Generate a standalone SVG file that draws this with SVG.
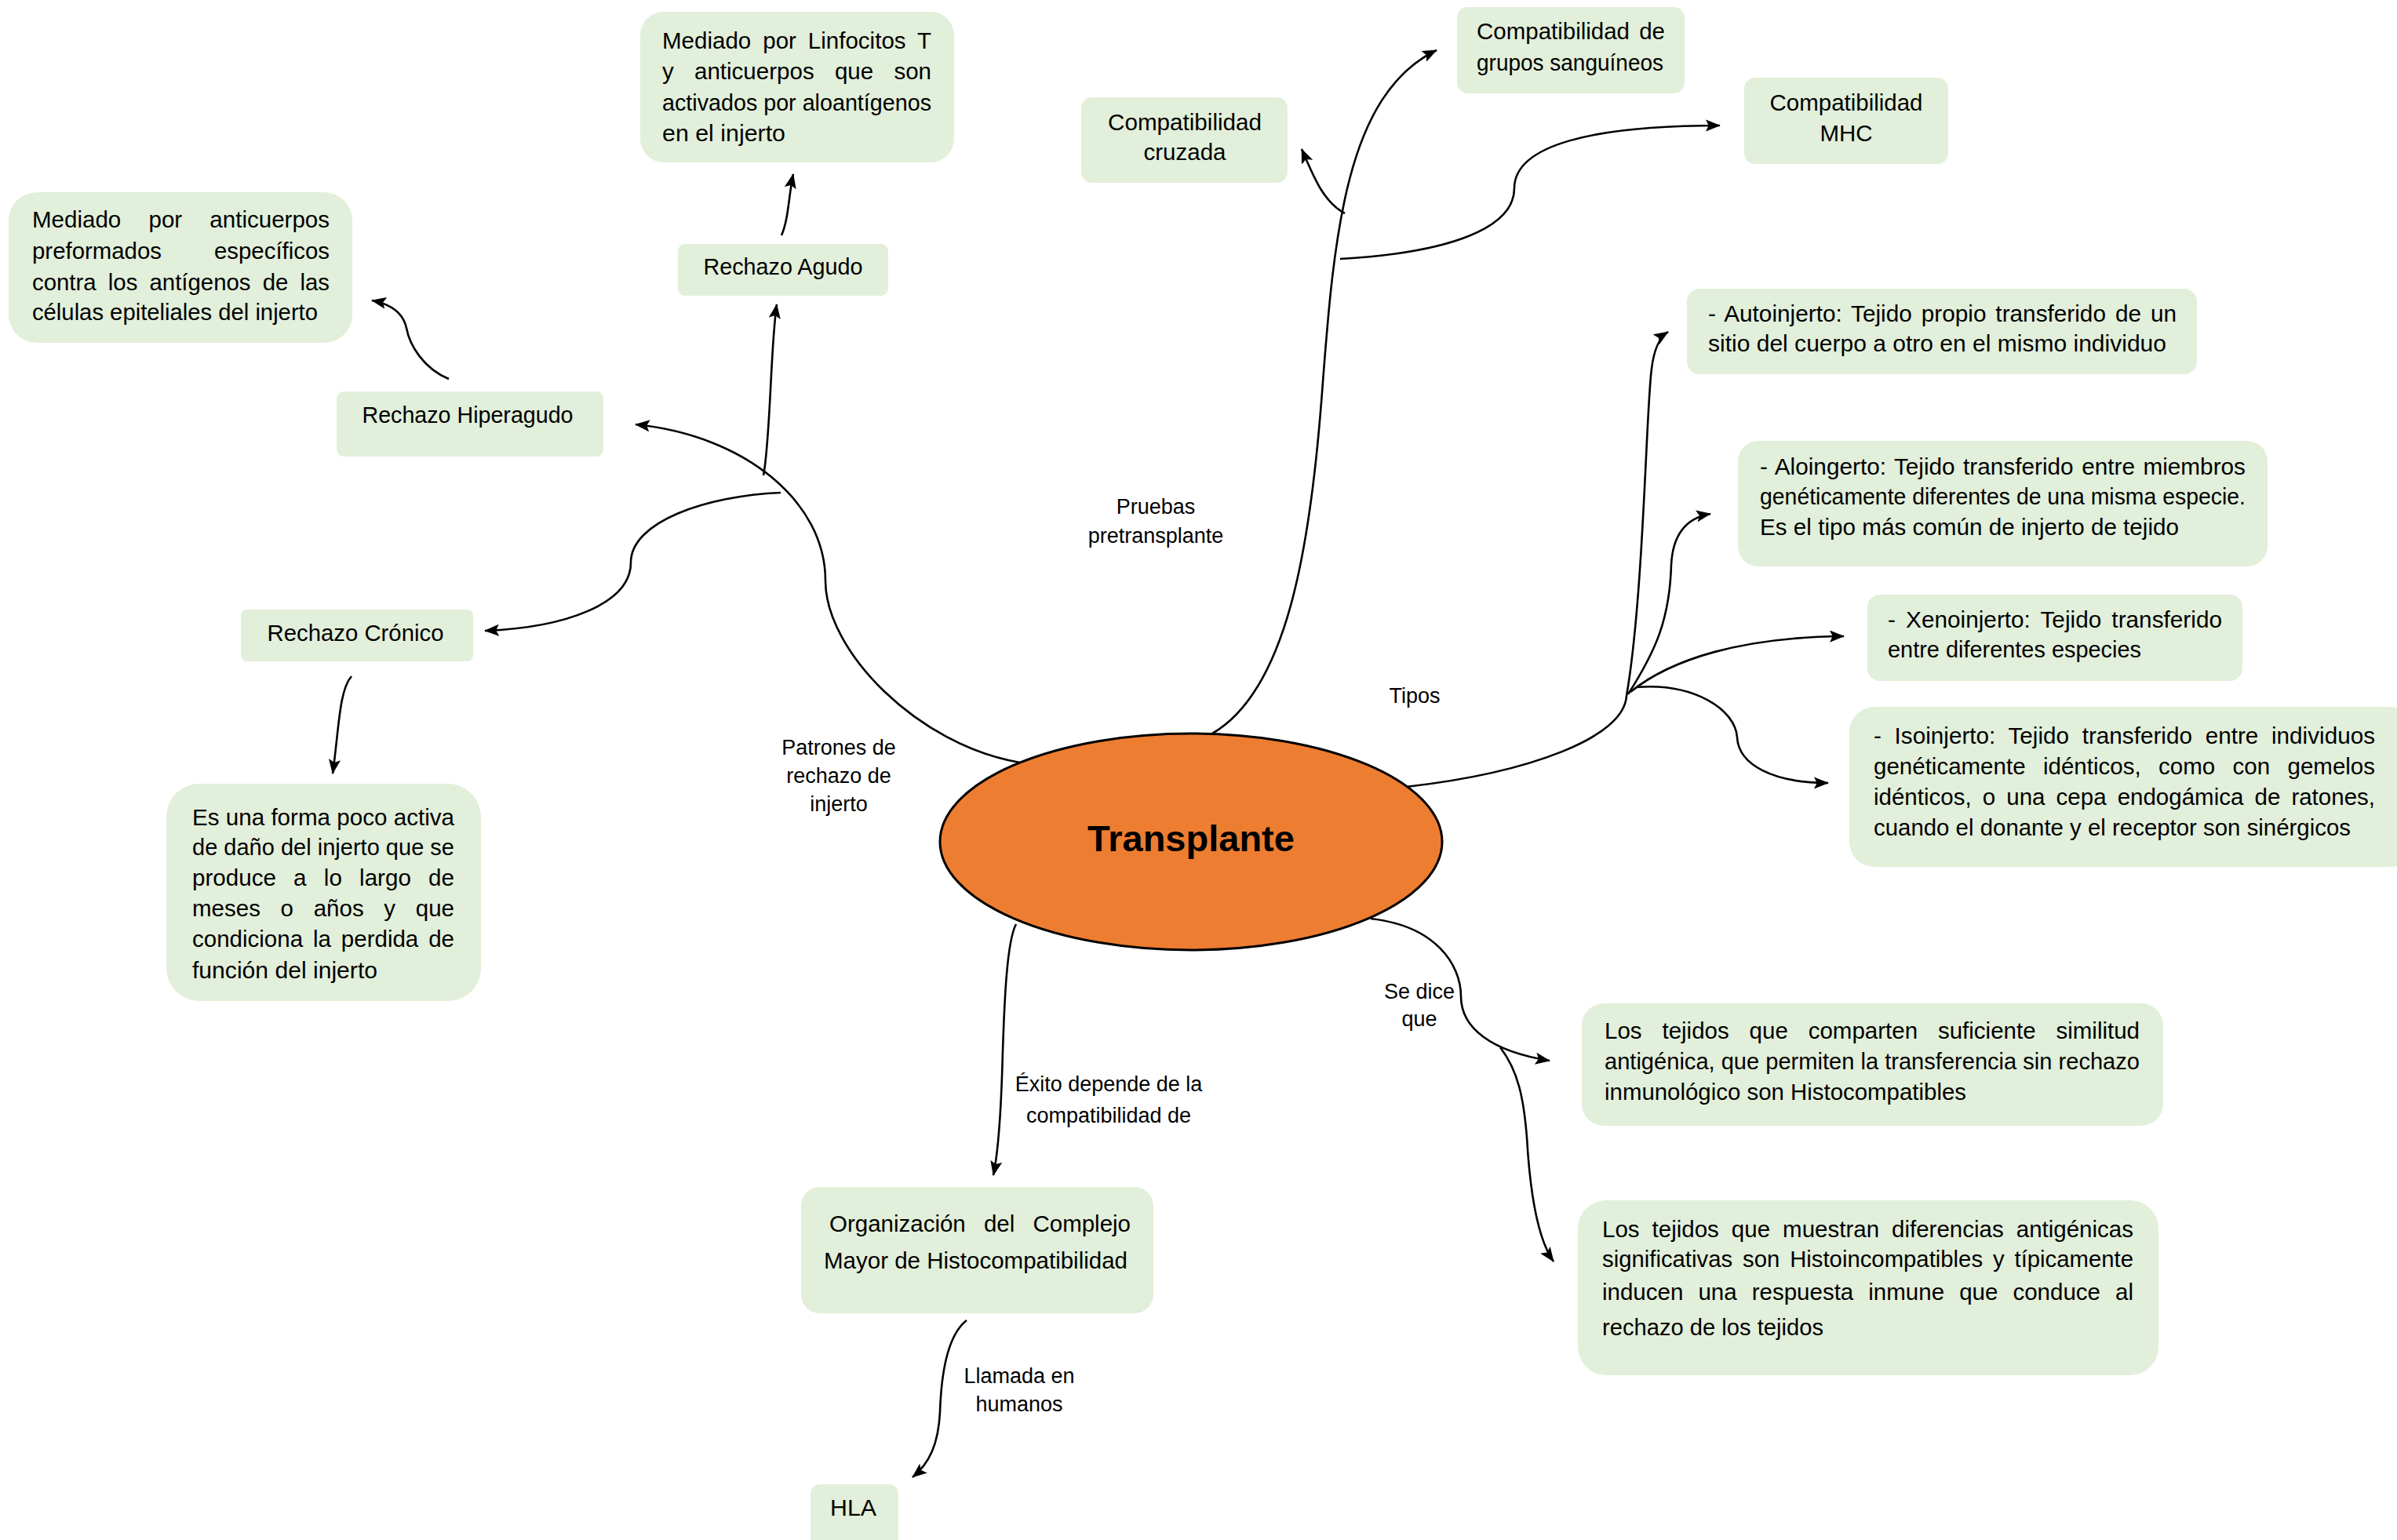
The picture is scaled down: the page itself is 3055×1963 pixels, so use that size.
<svg xmlns="http://www.w3.org/2000/svg" width="3055" height="1963" viewBox="0 0 3055 1963">
<defs>
<style>
.box{fill:#E2EFDA;}
.t{font-family:"Liberation Sans",Arial,sans-serif;font-size:29.5px;fill:#000;}
.c{text-anchor:middle;}
.lbl{font-family:"Liberation Sans",Arial,sans-serif;font-size:27px;fill:#000;text-anchor:middle;}
.e{fill:none;stroke:#000;stroke-width:2.6;}
.a{marker-end:url(#arr);}
</style>
<marker id="arr" markerUnits="userSpaceOnUse" viewBox="0 0 10 8" markerWidth="19" markerHeight="15.2" refX="9.5" refY="4" orient="auto">
<path d="M0,0 L10,4 L0,8 L2,4 Z" fill="#000"/>
</marker>
</defs>
<rect width="3055" height="1963" fill="#fff"/>

<g id="connectors">
<path class="e a" d="M1545,935 C1640,880 1670,700 1685,500 C1700,300 1715,120 1831,64"/>
<path class="e a" d="M1714,272 C1688,258 1676,230 1659,190"/>
<path class="e a" d="M1708,330 C1850,322 1930,290 1930,240 C1930,185 2030,160 2192,160"/>
<path class="e a" d="M1300,972 C1170,950 1052,830 1052,740 C1052,640 950,555 810,541"/>
<path class="e a" d="M973,606 C982,560 982,440 990,388"/>
<path class="e a" d="M995,628 C900,632 804,665 804,717 C804,770 720,800 618,804"/>
<path class="e a" d="M448,862 C432,880 432,930 424,986"/>
<path class="e a" d="M572,483 C540,470 522,440 518,418 C514,400 500,388 474,383"/>
<path class="e a" d="M996,300 C1005,280 1005,250 1011,222"/>
<path class="e" d="M1792,1003 C1950,985 2070,940 2073,887"/>
<path class="e a" d="M2073,887 C2095,760 2098,520 2105,470 C2108,445 2115,430 2126,423"/>
<path class="e a" d="M2075,885 C2110,830 2128,790 2130,720 C2132,680 2150,660 2180,655"/>
<path class="e a" d="M2078,882 C2130,840 2220,812 2350,811"/>
<path class="e a" d="M2085,876 C2160,870 2212,905 2214,940 C2216,975 2260,998 2330,998"/>
<path class="e a" d="M1747,1171 C1830,1180 1862,1230 1862,1270 C1862,1310 1900,1340 1975,1352"/>
<path class="e a" d="M1912,1335 C1935,1365 1942,1400 1946,1450 C1950,1520 1960,1580 1980,1608"/>
<path class="e a" d="M1295,1178 C1283,1200 1280,1280 1278,1340 C1276,1420 1272,1470 1266,1498"/>
<path class="e a" d="M1232,1683 C1210,1700 1200,1740 1198,1800 C1196,1840 1185,1865 1163,1883"/>
</g>

<g id="edge-labels">
<text class="lbl" x="1473" y="655">Pruebas</text>
<text class="lbl" x="1473" y="692">pretransplante</text>
<text class="lbl" x="1069" y="962">Patrones de</text>
<text class="lbl" x="1069" y="998">rechazo de</text>
<text class="lbl" x="1069" y="1034">injerto</text>
<text class="lbl" x="1803" y="896">Tipos</text>
<text class="lbl" x="1809" y="1273">Se dice</text>
<text class="lbl" x="1809" y="1308">que</text>
<text class="lbl" x="1413" y="1391">Éxito depende de la</text>
<text class="lbl" x="1413" y="1431">compatibilidad de</text>
<text class="lbl" x="1299" y="1763">Llamada en</text>
<text class="lbl" x="1299" y="1799">humanos</text>
</g>

<g id="transplante">
<ellipse cx="1518" cy="1073" rx="320" ry="138" fill="#ED7D31" stroke="#000" stroke-width="3"/>
<text x="1518" y="1085" text-anchor="middle" font-family="'Liberation Sans',Arial,sans-serif" font-weight="bold" font-size="47">Transplante</text>
</g>

<g id="linfocitos">
<rect class="box" x="816" y="15" width="400" height="192" rx="30"/>
<text class="t" x="844" y="62" textLength="343" lengthAdjust="spacingAndGlyphs" style="word-spacing:6.7px">Mediado por Linfocitos T</text>
<text class="t" x="844" y="101" textLength="343" lengthAdjust="spacingAndGlyphs" style="word-spacing:18px">y anticuerpos que son</text>
<text class="t" x="844" y="141" textLength="343" lengthAdjust="spacingAndGlyphs">activados por aloantígenos</text>
<text class="t" x="844" y="180" textLength="157" lengthAdjust="spacingAndGlyphs">en el injerto</text>
</g>

<g id="anticuerpos">
<rect class="box" x="11" y="245" width="438" height="192" rx="36"/>
<text class="t" x="41" y="290" textLength="379" lengthAdjust="spacingAndGlyphs" style="word-spacing:27px">Mediado por anticuerpos</text>
<text class="t" x="41" y="330" textLength="379" lengthAdjust="spacingAndGlyphs" style="word-spacing:59px">preformados específicos</text>
<text class="t" x="41" y="370" textLength="379" lengthAdjust="spacingAndGlyphs" style="word-spacing:7px">contra los antígenos de las</text>
<text class="t" x="41" y="408" textLength="364" lengthAdjust="spacingAndGlyphs">células epiteliales del injerto</text>
</g>

<g id="rechazo-agudo">
<rect class="box" x="864" y="311" width="268" height="66" rx="9"/>
<text class="t c" x="998" y="350" textLength="203" lengthAdjust="spacingAndGlyphs">Rechazo Agudo</text>
</g>

<g id="rechazo-hiperagudo">
<rect class="box" x="429" y="499" width="340" height="83" rx="9"/>
<text class="t c" x="596" y="539" textLength="269" lengthAdjust="spacingAndGlyphs">Rechazo Hiperagudo</text>
</g>

<g id="rechazo-cronico">
<rect class="box" x="307" y="777" width="296" height="66" rx="8"/>
<text class="t c" x="453" y="817" textLength="225" lengthAdjust="spacingAndGlyphs">Rechazo Crónico</text>
</g>

<g id="forma-poco-activa">
<rect class="box" x="212" y="999" width="401" height="277" rx="42"/>
<text class="t" x="245" y="1052" textLength="334" lengthAdjust="spacingAndGlyphs">Es una forma poco activa</text>
<text class="t" x="245" y="1090" textLength="334" lengthAdjust="spacingAndGlyphs">de daño del injerto que se</text>
<text class="t" x="245" y="1129" textLength="334" lengthAdjust="spacingAndGlyphs" style="word-spacing:14px">produce a lo largo de</text>
<text class="t" x="245" y="1168" textLength="334" lengthAdjust="spacingAndGlyphs" style="word-spacing:17.5px">meses o años y que</text>
<text class="t" x="245" y="1207" textLength="334" lengthAdjust="spacingAndGlyphs" style="word-spacing:4.7px">condiciona la perdida de</text>
<text class="t" x="245" y="1247" textLength="236" lengthAdjust="spacingAndGlyphs">función del injerto</text>
</g>

<g id="compat-cruzada">
<rect class="box" x="1378" y="124" width="263" height="109" rx="14"/>
<text class="t c" x="1510" y="166" textLength="196" lengthAdjust="spacingAndGlyphs">Compatibilidad</text>
<text class="t c" x="1510" y="204">cruzada</text>
</g>

<g id="compat-grupos">
<rect class="box" x="1857" y="9" width="290" height="110" rx="14"/>
<text class="t" x="1882" y="50" textLength="240" lengthAdjust="spacingAndGlyphs" style="word-spacing:4px">Compatibilidad de</text>
<text class="t" x="1882" y="90" textLength="238" lengthAdjust="spacingAndGlyphs">grupos sanguíneos</text>
</g>

<g id="compat-mhc">
<rect class="box" x="2223" y="99" width="260" height="110" rx="14"/>
<text class="t c" x="2353" y="141" textLength="195" lengthAdjust="spacingAndGlyphs">Compatibilidad</text>
<text class="t c" x="2353" y="180">MHC</text>
</g>

<g id="autoinjerto">
<rect class="box" x="2150" y="368" width="650" height="109" rx="16"/>
<text class="t" x="2177" y="410" textLength="597" lengthAdjust="spacingAndGlyphs" style="word-spacing:3.6px">- Autoinjerto: Tejido propio transferido de un</text>
<text class="t" x="2177" y="448" textLength="584" lengthAdjust="spacingAndGlyphs">sitio del cuerpo a otro en el mismo individuo</text>
</g>

<g id="aloinjerto">
<rect class="box" x="2215" y="562" width="675" height="160" rx="26"/>
<text class="t" x="2243" y="605" textLength="619" lengthAdjust="spacingAndGlyphs" style="word-spacing:2.2px">- Aloingerto: Tejido transferido entre miembros</text>
<text class="t" x="2243" y="643" textLength="619" lengthAdjust="spacingAndGlyphs">genéticamente diferentes de una misma especie.</text>
<text class="t" x="2243" y="682" textLength="534" lengthAdjust="spacingAndGlyphs">Es el tipo más común de injerto de tejido</text>
</g>

<g id="xenoinjerto">
<rect class="box" x="2380" y="758" width="478" height="110" rx="16"/>
<text class="t" x="2406" y="800" textLength="426" lengthAdjust="spacingAndGlyphs" style="word-spacing:4.8px">- Xenoinjerto: Tejido transferido</text>
<text class="t" x="2406" y="838" textLength="323" lengthAdjust="spacingAndGlyphs">entre diferentes especies</text>
</g>

<g id="isoinjerto">
<rect class="box" x="2357" y="901" width="720" height="204" rx="32"/>
<text class="t" x="2388" y="948" textLength="639" lengthAdjust="spacingAndGlyphs" style="word-spacing:8.4px">- Isoinjerto: Tejido transferido entre individuos</text>
<text class="t" x="2388" y="987" textLength="639" lengthAdjust="spacingAndGlyphs" style="word-spacing:14.2px">genéticamente idénticos, como con gemelos</text>
<text class="t" x="2388" y="1026" textLength="639" lengthAdjust="spacingAndGlyphs" style="word-spacing:5.9px">idénticos, o una cepa endogámica de ratones,</text>
<text class="t" x="2388" y="1065" textLength="608" lengthAdjust="spacingAndGlyphs">cuando el donante y el receptor son sinérgicos</text>
</g>

<g id="histocompatibles">
<rect class="box" x="2016" y="1279" width="741" height="156" rx="28"/>
<text class="t" x="2045" y="1324" textLength="682" lengthAdjust="spacingAndGlyphs" style="word-spacing:17.7px">Los tejidos que comparten suficiente similitud</text>
<text class="t" x="2045" y="1363" textLength="682" lengthAdjust="spacingAndGlyphs">antigénica, que permiten la transferencia sin rechazo</text>
<text class="t" x="2045" y="1402" textLength="461" lengthAdjust="spacingAndGlyphs">inmunológico son Histocompatibles</text>
</g>

<g id="histoincompatibles">
<rect class="box" x="2011" y="1530" width="740" height="223" rx="36"/>
<text class="t" x="2042" y="1577" textLength="677" lengthAdjust="spacingAndGlyphs" style="word-spacing:7.8px">Los tejidos que muestran diferencias antigénicas</text>
<text class="t" x="2042" y="1615" textLength="677" lengthAdjust="spacingAndGlyphs" style="word-spacing:4.8px">significativas son Histoincompatibles y típicamente</text>
<text class="t" x="2042" y="1657" textLength="677" lengthAdjust="spacingAndGlyphs" style="word-spacing:10.9px">inducen una respuesta inmune que conduce al</text>
<text class="t" x="2042" y="1702" textLength="282" lengthAdjust="spacingAndGlyphs">rechazo de los tejidos</text>
</g>

<g id="complejo-mayor">
<rect class="box" x="1021" y="1513" width="449" height="161" rx="24"/>
<text class="t" x="1057" y="1570" textLength="384" lengthAdjust="spacingAndGlyphs" style="word-spacing:15px">Organización del Complejo</text>
<text class="t" x="1050" y="1617" textLength="387" lengthAdjust="spacingAndGlyphs">Mayor de Histocompatibilidad</text>
</g>

<g id="hla">
<rect class="box" x="1033" y="1892" width="112" height="85" rx="12"/>
<text class="t" x="1058" y="1932" textLength="59" lengthAdjust="spacingAndGlyphs">HLA</text>
</g>
</svg>
